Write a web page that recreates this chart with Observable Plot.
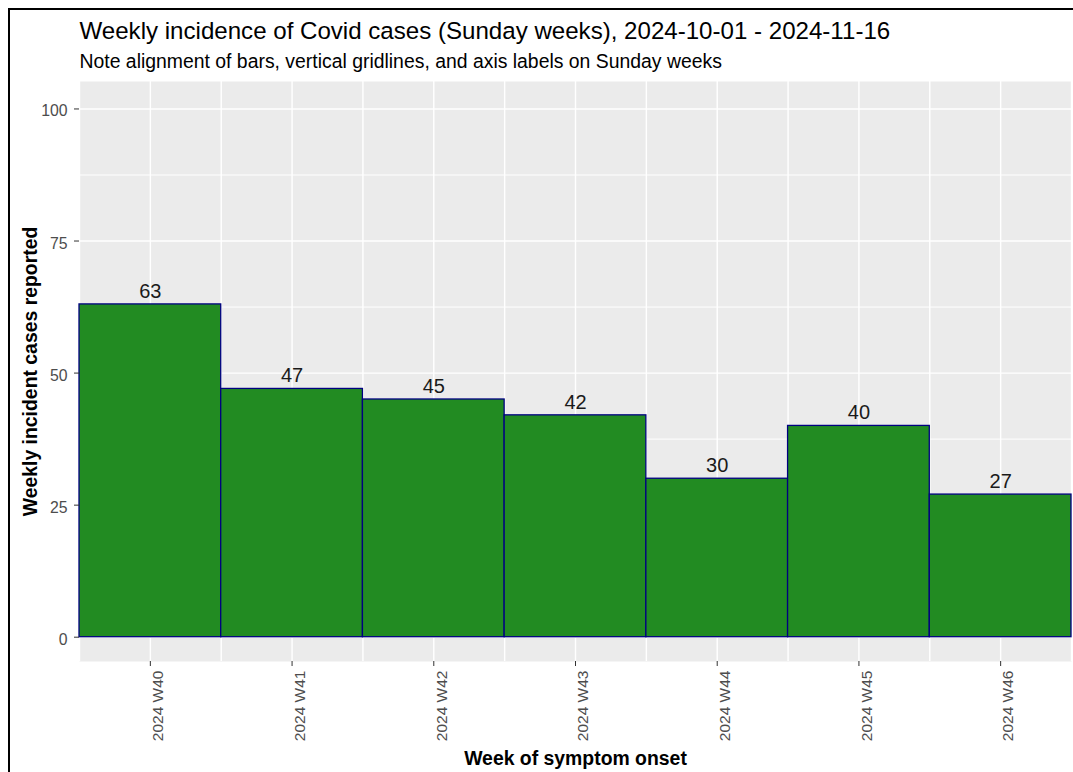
<!DOCTYPE html>
<html>
<head>
<meta charset="utf-8">
<script src="https://cdn.jsdelivr.net/npm/d3@7"></script>
<script src="https://cdn.jsdelivr.net/npm/@observablehq/plot@0.6"></script>
<style>
  html, body { margin: 0; padding: 0; background: #fff; overflow: hidden; }
  #wrap { position: relative; width: 1073px; height: 772px; }
  #border { position: absolute; left: 8px; top: 8px; width: 2000px; height: 2000px; border: 2px solid #000; pointer-events: none; }
</style>
</head>
<body>
<div id="wrap"><div id="chart"></div><div id="border"></div></div>
<script>
const weeks = ["2024 W40", "2024 W41", "2024 W42", "2024 W43", "2024 W44", "2024 W45", "2024 W46"];
const cases = [63, 47, 45, 42, 30, 40, 27];
const yTicks = [0, 25, 50, 75, 100];
const yMinor = [12.5, 37.5, 62.5, 87.5];
const titleText = "Weekly incidence of Covid cases (Sunday weeks), 2024-10-01 - 2024-11-16";
const subtitleText = "Note alignment of bars, vertical gridlines, and axis labels on Sunday weeks";
const xTitle = "Week of symptom onset";
const yTitle = "Weekly incident cases reported";

const idx = weeks.map((_, i) => i);
const edges = weeks.map((_, i) => i - 0.5).concat([weeks.length - 0.5]);
const font = "'Liberation Sans', Arial, sans-serif";

const chart = Plot.plot({
  width: 1073,
  height: 772,
  marginLeft: 79,
  marginRight: 2,
  marginTop: 81,
  marginBottom: 111,
  style: { fontFamily: font, background: "white", overflow: "visible" },
  x: { domain: [-0.5, weeks.length - 0.5] },
  y: { domain: [-4.6, 105.2] },
  marks: [
    Plot.frame({ fill: "#EBEBEB", stroke: null }),
    Plot.gridY(yMinor, { stroke: "white", strokeOpacity: 1, strokeWidth: 1 }),
    Plot.gridY(yTicks, { stroke: "white", strokeOpacity: 1, strokeWidth: 1.4 }),
    Plot.gridX(edges, { stroke: "white", strokeOpacity: 1, strokeWidth: 1.4 }),
    Plot.gridX(idx, { stroke: "white", strokeOpacity: 1, strokeWidth: 1.4 }),
    Plot.rectY(idx, {
      x1: i => i - 0.5, x2: i => i + 0.5, y1: 0, y2: i => cases[i],
      fill: "#228B22", stroke: "#000080", strokeWidth: 1.3, inset: 0
    }),
    Plot.text(idx, {
      x: i => i, y: i => cases[i], text: i => String(cases[i]),
      lineAnchor: "bottom", dy: -6.5, fontSize: 20, fill: "#1a1a1a"
    }),
    Plot.axisY(yTicks, {
      tickSize: 5, tickFormat: () => "", color: "#333333", label: null
    }),
    Plot.text(yTicks, {
      y: d => d, text: d => String(d), frameAnchor: "left",
      textAnchor: "end", lineAnchor: "bottom",
      dx: -12, dy: 7.5, fontSize: 15.8, fill: "#4D4D4D"
    }),
    Plot.axisX(idx, {
      tickSize: 5, tickFormat: () => "", color: "#333333", label: null
    }),
    Plot.text(idx, {
      x: i => i, text: i => weeks[i], frameAnchor: "bottom",
      rotate: -90, textAnchor: "end", lineAnchor: "bottom",
      dx: 12.8, dy: 9, fontSize: 15.5, fill: "#4D4D4D"
    }),
    Plot.text([xTitle], {
      text: d => d, frameAnchor: "bottom", textAnchor: "middle", lineAnchor: "bottom",
      dy: 103, fontSize: 19.4, fontWeight: "bold", fill: "#000"
    }),
    Plot.text([yTitle], {
      text: d => d, frameAnchor: "left", textAnchor: "middle", rotate: -90, lineAnchor: "bottom",
      dx: -43, fontSize: 19.4, fontWeight: "bold", fill: "#000"
    }),
    Plot.text([titleText], {
      text: d => d, frameAnchor: "top-left", textAnchor: "start", lineAnchor: "bottom",
      dy: -42.7, fontSize: 24.1, fill: "#000"
    }),
    Plot.text([subtitleText], {
      text: d => d, frameAnchor: "top-left", textAnchor: "start", lineAnchor: "bottom",
      dy: -13.7, fontSize: 19.4, fill: "#000"
    })
  ]
});
document.getElementById("chart").appendChild(chart);
</script>
</body>
</html>
